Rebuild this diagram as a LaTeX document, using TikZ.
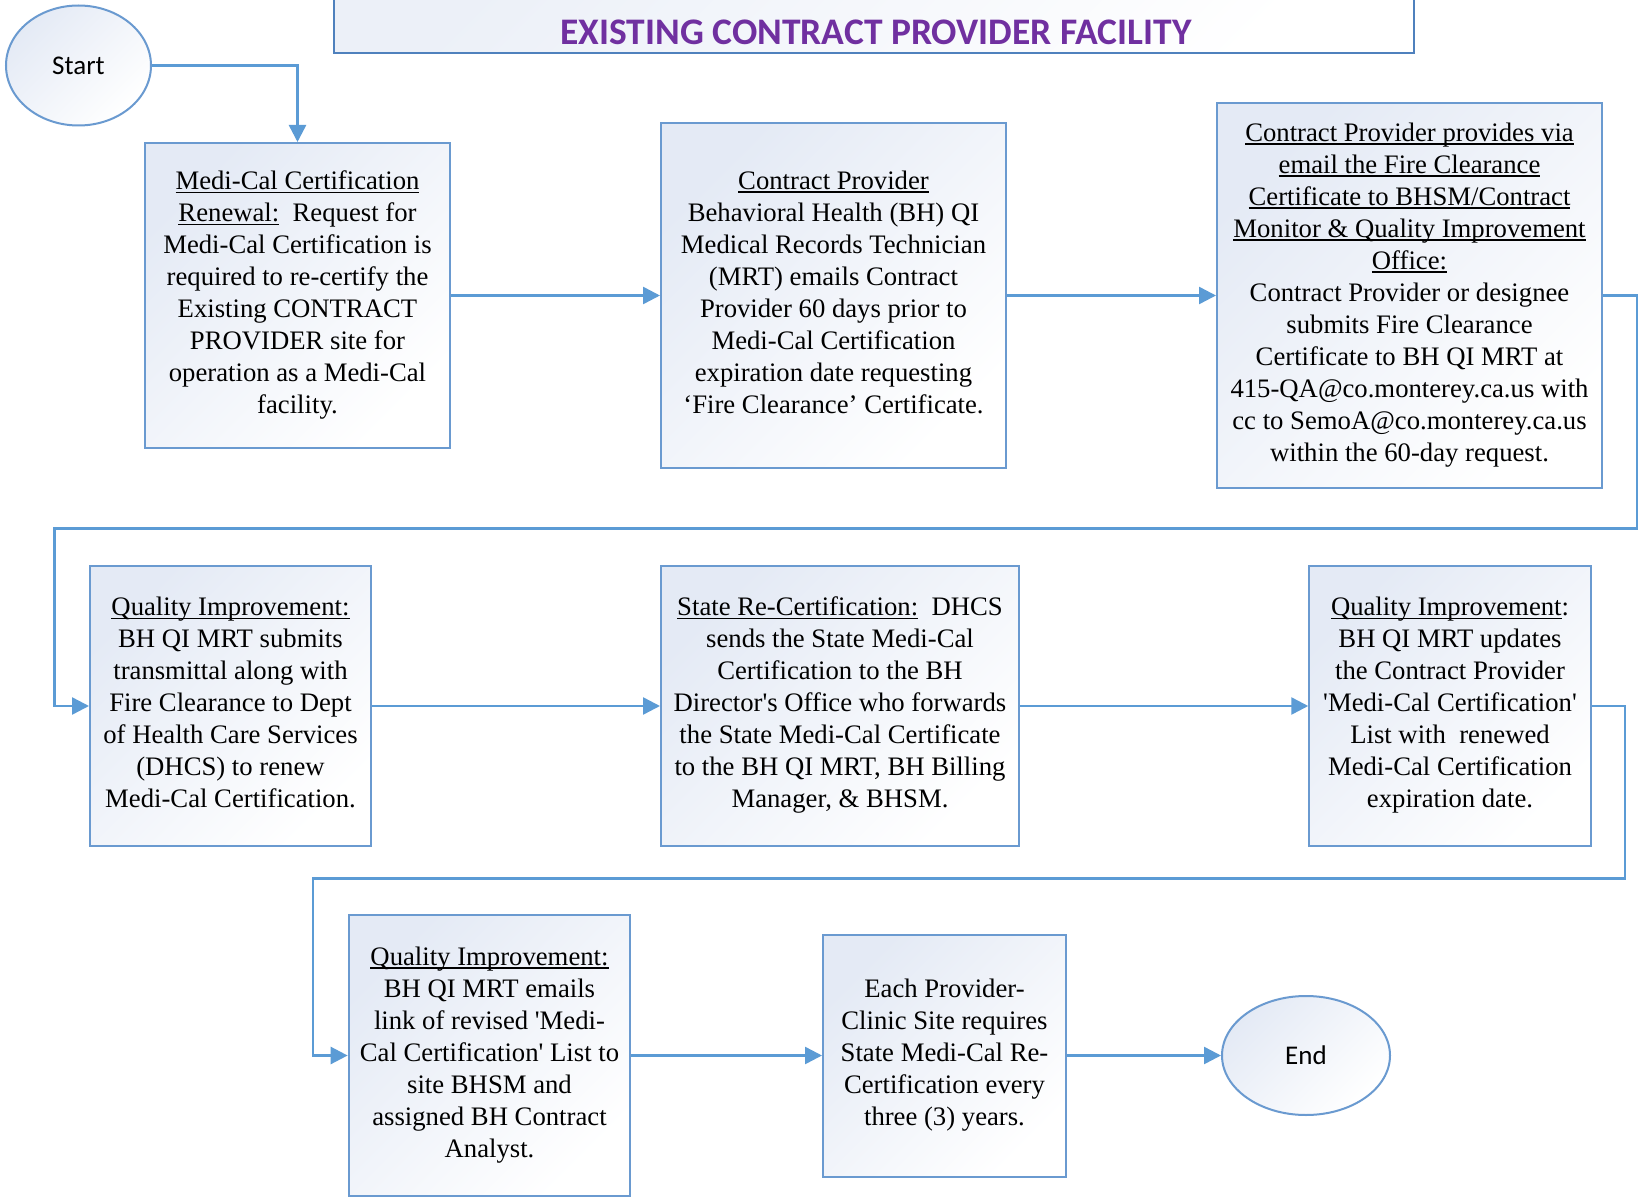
\documentclass[tikz,border=0pt]{standalone}
\usepackage{fontspec}
\setmainfont{Liberation Serif}
\newfontfamily\calib{Carlito}
\usetikzlibrary{arrows.meta,shapes.geometric}
\definecolor{edgeblue}{HTML}{5B9BD5}
\definecolor{boxblue}{HTML}{6A9AD0}
\definecolor{titleblue}{HTML}{4F81BD}
\definecolor{shadeblue}{HTML}{E4EAF5}
\definecolor{titlepurple}{HTML}{7030A0}
\newsavebox{\ulbox}
\newcommand{\ul}[1]{\leavevmode\sbox{\ulbox}{#1}\rlap{\rule[-3.5pt]{\wd\ulbox}{1.3pt}}\usebox{\ulbox}}
\newcommand{\sq}{\textquotesingle}
\newcommand{\mystrut}{\rule[-7pt]{0pt}{38.4pt}}
\tikzset{
  procbox/.style={draw=boxblue, line width=2pt, rectangle, inner sep=0pt,
    top color=shadeblue, bottom color=white, shading angle=45,
    align=center, font=\fontsize{26.7}{32}\selectfont,
    execute at begin node=\mystrut, execute at end node=\mystrut},
  terminal/.style={draw=boxblue, line width=2pt, ellipse, inner sep=0pt,
    top color=shadeblue, bottom color=white, shading angle=45,
    font=\calib\fontsize{27}{32}\selectfont},
  arr/.style={draw=edgeblue, line width=2.5pt, -{Triangle[length=17pt,width=17pt]}},
}
\begin{document}
\begin{tikzpicture}[x=1pt,y=-1pt]
\useasboundingbox (0,0) rectangle (1642,1201);
\fill[white] (0,0) rectangle (1642,1201);
% title
\node[draw=titleblue, line width=2pt, rectangle, inner sep=0pt,
  top color=shadeblue!70, bottom color=white, shading angle=45,
  minimum width=1080pt, minimum height=80pt] (title) at (874,13.5) {};
\node[font=\calib\bfseries\fontsize{37.5}{42}\selectfont, text=titlepurple, inner sep=0pt] (ttext) at (876,32.5) {EXISTING CONTRACT PROVIDER FACILITY};
% terminals
\node[terminal, minimum width=145pt, minimum height=120pt] (start) at (78.5,65.5) {Start};
\node[terminal, minimum width=168pt, minimum height=119pt] (end) at (1306,1055.5) {End};
% row 1
\node[procbox, minimum width=305.5pt, minimum height=305pt] (b1) at (297.5,295.5) {%
\ul{Medi-Cal Certification}\\
\ul{Renewal:}\ \ Request for\\
Medi-Cal Certification is\\
required to re-certify the\\
Existing CONTRACT\\
PROVIDER site for\\
operation as a Medi-Cal\\
facility.};
\node[procbox, minimum width=345pt, minimum height=345.5pt] (b2) at (833.5,295.5) {%
\ul{Contract Provider}\\
Behavioral Health (BH) QI\\
Medical Records Technician\\
(MRT) emails Contract\\
Provider 60 days prior to\\
Medi-Cal Certification\\
expiration date requesting\\
‘Fire Clearance’ Certificate.};
\node[procbox, minimum width=385pt, minimum height=384pt] (b3) at (1409.5,295.5) {%
\ul{Contract Provider provides via}\\
\ul{email the Fire Clearance}\\
\ul{Certificate to BHSM/Contract}\\
\ul{Monitor \& Quality Improvement}\\
\ul{Office:}\\
Contract Provider or designee\\
submits Fire Clearance\\
Certificate to BH QI MRT at\\
415-QA@co.monterey.ca.us with\\
cc to SemoA@co.monterey.ca.us\\
within the 60-day request.};
% row 2
\node[procbox, minimum width=281pt, minimum height=280.5pt] (b4) at (230.5,706) {%
\ul{Quality Improvement:}\\
BH QI MRT submits\\
transmittal along with\\
Fire Clearance to Dept\\
of Health Care Services\\
(DHCS) to renew\\
Medi-Cal Certification.};
\node[procbox, minimum width=358pt, minimum height=280.5pt] (b5) at (840,706) {%
\ul{State Re-Certification:}\ \ DHCS\\
sends the State Medi-Cal\\
Certification to the BH\\
Director\sq s Office who forwards\\
the State Medi-Cal Certificate\\
to the BH QI MRT, BH Billing\\
Manager, \& BHSM.};
\node[procbox, minimum width=281.5pt, minimum height=280.5pt] (b6) at (1450,706) {%
\ul{Quality Improvement}:\\
BH QI MRT updates\\
the Contract Provider\\
\sq Medi-Cal Certification\sq\\
List with\ \ renewed\\
Medi-Cal Certification\\
expiration date.};
% row 3
\node[procbox, minimum width=281.7pt, minimum height=281pt] (b7) at (489.5,1055.5) {%
\ul{Quality Improvement:}\\
BH QI MRT emails\\
link of revised \sq Medi-\\
Cal Certification\sq\ List to\\
site BHSM and\\
assigned BH Contract\\
Analyst.};
\node[procbox, minimum width=243pt, minimum height=242pt] (b8) at (944.5,1055.5) {%
Each Provider-\\
Clinic Site requires\\
State Medi-Cal Re-\\
Certification every\\
three (3) years.};
% connectors
\coordinate (k1) at (1637,528.5);
\coordinate (k2) at (54.5,528.5);
\coordinate (k3) at (1625,878.5);
\coordinate (k4) at (313,878.5);
\draw[arr] (start.east) -| (b1.north);
\draw[arr] (b1.east) -- (b2.west);
\draw[arr] (b2.east) -- (b3.west);
\draw[arr] (b3.east) -| (k1) -- (k2) |- (b4.west);
\draw[arr] (b4.east) -- (b5.west);
\draw[arr] (b5.east) -- (b6.west);
\draw[arr] (b6.east) -| (k3) -- (k4) |- (b7.west);
\draw[arr] (b7.east) -- (b8.west);
\draw[arr] (b8.east) -- (end.west);
\end{tikzpicture}
\end{document}
